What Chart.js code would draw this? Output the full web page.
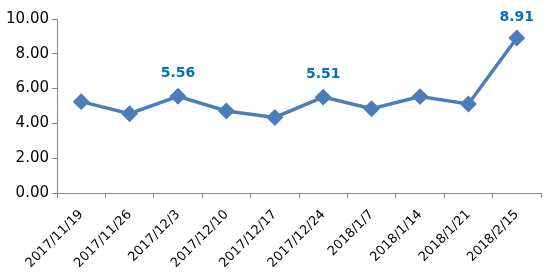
<!DOCTYPE html>
<html>
<head>
<meta charset="utf-8">
<script src="https://cdn.jsdelivr.net/npm/chart.js@4/dist/chart.umd.min.js"></script>
<style>
  html, body { margin: 0; padding: 0; background: #fff; }
  #wrap { width: 546px; height: 279px; }
</style>
</head>
<body>
<div id="wrap"><canvas id="myChart" width="546" height="279"></canvas></div>
<script>
var dates = ["2017/11/19", "2017/11/26", "2017/12/3", "2017/12/10", "2017/12/17",
             "2017/12/24", "2018/1/7", "2018/1/14", "2018/1/21", "2018/2/15"];
var values = [5.25, 4.56, 5.56, 4.71, 4.34, 5.51, 4.84, 5.54, 5.12, 8.91];
// only these points carry a label
var labelled = [2, 5, 9];
var yTicks = [0, 2, 4, 6, 8, 10];

var lineColor = "#4A7EBB";

var pointLabels = {
  id: "pointLabels",
  afterDatasetsDraw: function (chart) {
    var ctx = chart.ctx;
    var meta = chart.getDatasetMeta(0);
    ctx.save();
    ctx.font = "bold 14px 'DejaVu Sans'";
    ctx.fillStyle = "#0070C0";
    ctx.textAlign = "center";
    ctx.textBaseline = "alphabetic";
    labelled.forEach(function (i) {
      var pt = meta.data[i];
      // keep the label inside the canvas, like the spreadsheet does
      var y = Math.max(pt.y - 19, 21);
      ctx.fillText(values[i].toFixed(2), pt.x, y);
    });
    ctx.restore();
  }
};

var ctx = document.getElementById("myChart");
var myChart = new Chart(ctx, {
  type: "line",
  data: {
    labels: dates,
    datasets: [{
      data: values,
      borderColor: lineColor,
      backgroundColor: lineColor,
      borderWidth: 3.5,
      pointStyle: "rectRot",
      pointRadius: 6,
      pointBackgroundColor: lineColor,
      pointBorderColor: lineColor,
      tension: 0
    }]
  },
  options: {
    responsive: false,
    animation: false,
    layout: { autoPadding: false, padding: { top: 19, right: 5, left: 0, bottom: 0 } },
    plugins: { legend: { display: false }, tooltip: { enabled: false } },
    scales: {
      x: {
        offset: true,
        grid: { offset: true, drawOnChartArea: false, tickLength: 5, color: "#868686" },
        border: { color: "#868686" },
        ticks: {
          minRotation: 45, maxRotation: 45,
          autoSkip: false,
          color: "#000",
          font: { family: "DejaVu Sans", size: 13 },
          padding: 9
        },
        afterFit: function (scale) {
          scale.height = 86;
          scale.paddingRight = 0;
          scale.paddingLeft = 0;
        }
      },
      y: {
        min: 0, max: 10,
        afterBuildTicks: function (scale) {
          scale.ticks = yTicks.map(function (v) { return { value: v }; });
        },
        grid: { drawOnChartArea: false, tickLength: 5, color: "#868686" },
        border: { color: "#868686" },
        ticks: {
          color: "#000",
          font: { family: "DejaVu Sans", size: 15 },
          padding: 3,
          callback: function (v) { return v.toFixed(2); }
        },
        afterFit: function (scale) { scale.width = 57; }
      }
    }
  },
  plugins: [pointLabels]
});
</script>
</body>
</html>
